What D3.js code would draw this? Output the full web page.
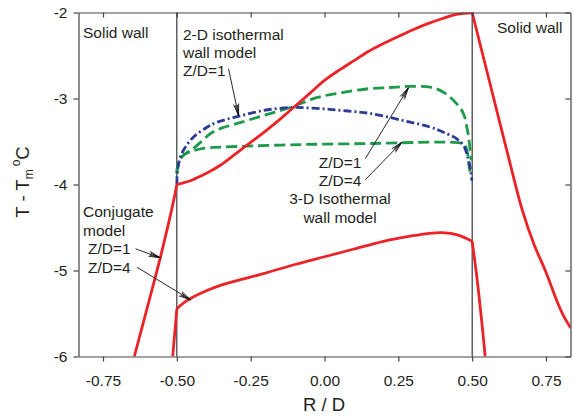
<!DOCTYPE html>
<html>
<head>
<meta charset="utf-8">
<script src="https://cdn.jsdelivr.net/npm/d3@7"></script>
<style>
  body { margin: 0; background: #fff; }
  svg text { font-family: "Liberation Sans", Arial, sans-serif; fill: #231f20; }
</style>
</head>
<body>
<svg id="chart" width="574" height="416"></svg>
<script>
/*
      Data (R/D, T - Tm)
*/
// conjugate model, Z/D=1
const conjZ1R = [-0.644, -0.6, -0.556, -0.511, -0.5, -0.45, -0.4, -0.35, -0.3, -0.25, -0.2, -0.15, -0.1, -0.05, 0, 0.05, 0.1, 0.15, 0.2, 0.25, 0.3, 0.35, 0.4, 0.45, 0.5, 0.56, 0.62, 0.67, 0.71, 0.75, 0.79, 0.81, 0.834];
const conjZ1T = [-6, -5.43, -4.85, -4.19, -4.0, -3.95, -3.87, -3.77, -3.64, -3.51, -3.38, -3.24, -3.09, -2.94, -2.79, -2.67, -2.56, -2.45, -2.36, -2.28, -2.2, -2.13, -2.07, -2.02, -2.0, -2.82, -3.64, -4.3, -4.7, -5.02, -5.38, -5.53, -5.67];
// conjugate model, Z/D=4
const conjZ4R = [-0.514, -0.5, -0.47, -0.44, -0.4, -0.35, -0.3, -0.2, -0.1, 0, 0.1, 0.2, 0.3, 0.35, 0.4, 0.45, 0.5, 0.516, 0.538, 0.544];
const conjZ4T = [-6, -5.445, -5.36, -5.3, -5.235, -5.17, -5.12, -5.03, -4.93, -4.84, -4.75, -4.66, -4.595, -4.57, -4.56, -4.585, -4.66, -5.08, -5.78, -6];
// 2-D isothermal wall model, Z/D=1
const iso2DR = [-0.5, -0.498, -0.488, -0.472, -0.444, -0.398, -0.364, -0.295, -0.207, -0.116, -0.024, 0.063, 0.155, 0.266, 0.358, 0.403, 0.448, 0.471, 0.482, 0.493, 0.499];
const iso2DT = [-4.0, -3.85, -3.68, -3.57, -3.45, -3.334, -3.276, -3.21, -3.14, -3.105, -3.116, -3.14, -3.174, -3.256, -3.333, -3.392, -3.469, -3.547, -3.643, -3.8, -3.956];
// 3-D isothermal wall model, Z/D=1
const iso3DZ1R = [-0.5, -0.494, -0.478, -0.444, -0.42, -0.387, -0.353, -0.295, -0.207, -0.116, -0.024, 0.063, 0.155, 0.223, 0.28, 0.358, 0.403, 0.448, 0.471, 0.482, 0.488, 0.493, 0.497];
const iso3DZ1T = [-3.87, -3.74, -3.66, -3.58, -3.51, -3.41, -3.35, -3.29, -3.198, -3.105, -2.988, -2.93, -2.884, -2.872, -2.86, -2.868, -2.927, -3.062, -3.18, -3.334, -3.45, -3.6, -3.72];
// 3-D isothermal wall model, Z/D=4
const iso3DZ4R = [-0.5, -0.494, -0.478, -0.455, -0.41, -0.295, -0.072, 0.155, 0.358, 0.426, 0.465, 0.476, 0.484, 0.49, 0.493];
const iso3DZ4T = [-3.87, -3.74, -3.66, -3.62, -3.58, -3.558, -3.535, -3.523, -3.508, -3.508, -3.52, -3.547, -3.63, -3.8, -3.85];

const xTicks = [-0.75, -0.5, -0.25, 0, 0.25, 0.5, 0.75];
const yTicks = [-2, -3, -4, -5, -6];
const wallLines = [-0.5, 0.5];

// annotation arrows: [fromR, fromT, toR, toT]
const arrows = [
  [-0.325, -2.655, -0.291, -3.198],
  [0.138, -3.70, 0.284, -2.876],
  [0.138, -3.945, 0.262, -3.508],
  [-0.640, -4.748, -0.556, -4.852],
  [-0.635, -4.962, -0.454, -5.34],
];

/*
      Layout
*/
const svg = d3.select("#chart");
const x = d3.scaleLinear().domain([-0.833, 0.833]).range([78.5, 570.5]);
const y = d3.scaleLinear().domain([-6, -2]).range([356.5, 12.5]);
const fmtX = (d) => d3.format(".2f")(d).replace("−", "-");
const fmtY = (d) => String(d);

svg.append("clipPath").attr("id", "plot")
  .append("rect")
  .attr("x", x.range()[0]).attr("y", y.range()[1])
  .attr("width", x.range()[1] - x.range()[0])
  .attr("height", y.range()[0] - y.range()[1]);

// solid wall boundaries
svg.append("g").selectAll("line")
  .data(wallLines)
  .join("line")
  .attr("x1", (d) => x(d)).attr("x2", (d) => x(d))
  .attr("y1", y.range()[0]).attr("y2", y.range()[1])
  .attr("stroke", "#111").attr("stroke-width", 1);

/*
      Curves
*/
function toPoints(rs, ts) {
  return rs.map((r, i) => [r, ts[i]]);
}

// split at the wall positions so the kinks stay sharp
function splitAtWalls(pts) {
  const segs = [];
  let cur = [];
  pts.forEach((p) => {
    cur.push(p);
    if (Math.abs(Math.abs(p[0]) - 0.5) < 1e-9) {
      if (cur.length > 1) segs.push(cur);
      cur = [p];
    }
  });
  if (cur.length > 1) segs.push(cur);
  return segs;
}

const line = d3.line()
  .x((d) => x(d[0]))
  .y((d) => y(d[1]))
  .curve(d3.curveCatmullRom.alpha(0.5));

const series = [
  { pts: toPoints(iso3DZ4R, iso3DZ4T), color: "#1e9a4b", dash: "11,5", split: false },
  { pts: toPoints(iso3DZ1R, iso3DZ1T), color: "#1e9a4b", dash: "11,5", split: false },
  { pts: toPoints(iso2DR, iso2DT), color: "#2d3b97", dash: "8,3,2,3", split: false },
  { pts: toPoints(conjZ1R, conjZ1T), color: "#ec2227", dash: null, split: true },
  { pts: toPoints(conjZ4R, conjZ4T), color: "#ec2227", dash: null, split: true },
];

const curves = svg.append("g").attr("clip-path", "url(#plot)");
series.forEach((s) => {
  const segs = s.split ? splitAtWalls(s.pts) : [s.pts];
  segs.forEach((seg) => {
    curves.append("path")
      .attr("d", line(seg))
      .attr("fill", "none")
      .attr("stroke", s.color)
      .attr("stroke-width", 2.8)
      .attr("stroke-dasharray", s.dash)
      .attr("stroke-linejoin", "round");
  });
});

/*
      Axes (frame)
*/
function styleAxis(g) {
  g.selectAll(".domain").attr("stroke", "#444").attr("stroke-width", 1.2);
  g.selectAll(".tick line").attr("stroke", "#444").attr("stroke-width", 1.2);
  g.selectAll("text").attr("font-size", 15.5).attr("fill", "#231f20");
}

svg.append("g")
  .attr("transform", `translate(0,${y.range()[0]})`)
  .call(d3.axisBottom(x).tickValues(xTicks).tickFormat(fmtX).tickSizeInner(5).tickSizeOuter(0))
  .call(styleAxis)
  .call((g) => g.selectAll("text").attr("y", 18));

svg.append("g")
  .attr("transform", `translate(0,${y.range()[1]})`)
  .call(d3.axisTop(x).tickValues(xTicks).tickFormat("").tickSizeInner(-5).tickSizeOuter(0))
  .call(styleAxis);

svg.append("g")
  .attr("transform", `translate(${x.range()[0]},0)`)
  .call(d3.axisLeft(y).tickValues(yTicks).tickFormat(fmtY).tickSizeInner(5).tickSizeOuter(0))
  .call(styleAxis)
  .call((g) => g.selectAll("text").attr("x", -11));

svg.append("g")
  .attr("transform", `translate(${x.range()[1]},0)`)
  .call(d3.axisRight(y).tickValues(yTicks).tickFormat("").tickSizeInner(-5).tickSizeOuter(0))
  .call(styleAxis);

svg.selectAll("g").attr("font-family", null);

// axis titles
svg.append("text")
  .attr("x", 324).attr("y", 411)
  .attr("text-anchor", "middle")
  .attr("font-size", 18.5)
  .text("R / D");

const yTitle = svg.append("text")
  .attr("transform", "translate(29,182) rotate(-90)")
  .attr("text-anchor", "middle")
  .attr("font-size", 18.5);
yTitle.append("tspan").text("T - T");
yTitle.append("tspan").attr("font-size", 12).attr("dy", 4).text("m");
yTitle.append("tspan").attr("font-size", 12).attr("dy", -13).attr("dx", 3).text("o");
yTitle.append("tspan").attr("dy", 9).text("C");

/*
      Annotations
*/
const ann = svg.append("g").attr("font-size", 15.5);

function addText(lines, px, py, lh, anchor) {
  lines.forEach((t, i) => {
    ann.append("text")
      .attr("x", px).attr("y", py + i * lh)
      .attr("text-anchor", anchor)
      .text(t);
  });
}

addText(["Solid wall"], 83, 38, 0, "start");
addText(["Solid wall"], 497, 33, 0, "start");
addText(["2-D isothermal", "wall model", "Z/D=1"], 183, 40, 18, "start");
addText(["Z/D=1", "Z/D=4", "3-D Isothermal", "wall model"], 340, 168, 18.2, "middle");
addText(["Conjugate", "model"], 83, 217, 19, "start");
addText(["Z/D=1", "Z/D=4"], 88, 254.3, 18.4, "start");

const arrowG = svg.append("g")
  .attr("stroke", "#111").attr("stroke-width", 0.9).attr("fill", "none");

arrows.forEach(([r0, t0, r1, t1]) => {
  const x0 = x(r0), y0 = y(t0), x1 = x(r1), y1 = y(t1);
  const a = Math.atan2(y1 - y0, x1 - x0);
  const L = 12;
  const barb = (da, len) => [x1 - len * Math.cos(a + da), y1 - len * Math.sin(a + da)];
  const b1 = barb(0.22, L), b2 = barb(-0.22, L);
  const c1 = barb(0.11, L * 0.9), c2 = barb(-0.11, L * 0.9);
  arrowG.append("path")
    .attr("d", `M${x0},${y0}L${x1},${y1}M${b1}L${x1},${y1}L${b2}M${c1}L${x1},${y1}L${c2}`);
});
</script>
</body>
</html>
